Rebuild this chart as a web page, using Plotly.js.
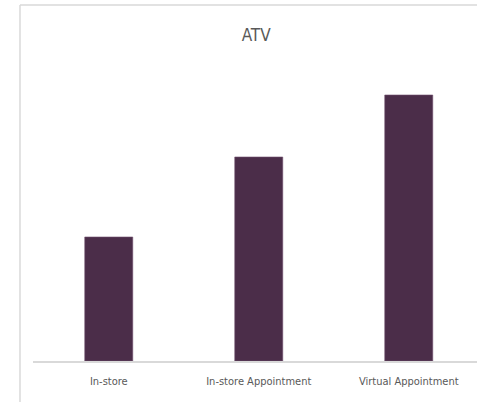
<!DOCTYPE html>
<html>
<head>
<meta charset="utf-8">
<script src="https://cdn.plot.ly/plotly-3.0.1.min.js"></script>
<style>html,body{margin:0;padding:0;background:#fff;}#chart{width:477px;height:402px;}</style>
</head>
<body>
<div id="chart"></div>
<script>
const categories = ["In-store", "In-store Appointment", "Virtual Appointment"];
const atvValues = [62, 102, 133];
const chartTitle = "ATV";

const FONT = "'DejaVu Sans Condensed', 'Open Sans', sans-serif";
const data = [{
  type: "bar",
  x: categories,
  y: atvValues,
  marker: {color: "#4b2d49", line: {color: "#6e4f6c", width: 0.6}},
  hoverinfo: "x+y"
}];

const layout = {
  width: 477, height: 402,
  margin: {l: 33, r: 0, t: 40, b: 41, pad: 0},
  paper_bgcolor: "#ffffff", plot_bgcolor: "#ffffff",
  title: {text: chartTitle, x: 0.537, xanchor: "center", xref: "container", y: 0.913, yanchor: "middle", yref: "container",
          font: {family: FONT, size: 17, color: "#595959"}},
  bargap: 0.68,
  showlegend: false,
  xaxis: {
    range: [-0.505, 2.455],
    showline: true, linecolor: "#d9d9d9", linewidth: 1.5,
    ticks: "outside", ticklen: 9, tickcolor: "rgba(0,0,0,0)",
    tickfont: {family: FONT, size: 11, color: "#595959"},
    showgrid: false, zeroline: false, fixedrange: true
  },
  yaxis: {
    range: [0, 160.5],
    visible: false, showgrid: false, zeroline: false, fixedrange: true
  },
  shapes: [
    {type: "line", xref: "paper", yref: "paper", x0: -0.0293, x1: -0.0293, y0: 1.109, y1: -0.13,
     line: {color: "#d9d9d9", width: 1.5}},
    {type: "line", xref: "paper", yref: "paper", x0: -0.0293, x1: 1.0, y0: 1.109, y1: 1.109,
     line: {color: "#d9d9d9", width: 1.5}}
  ]
};

Plotly.newPlot("chart", data, layout, {displayModeBar: false, staticPlot: true});
</script>
</body>
</html>
